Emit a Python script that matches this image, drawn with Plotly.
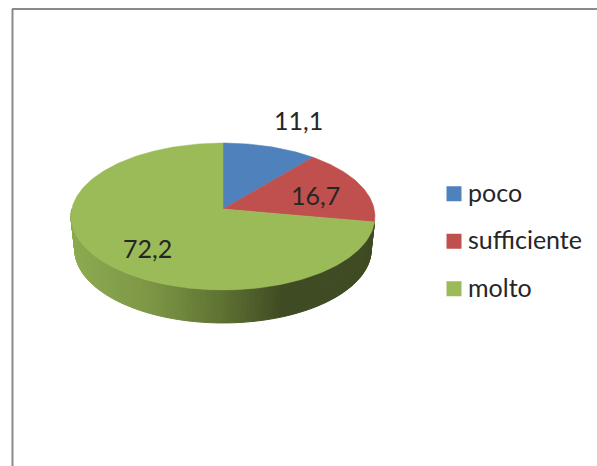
import math
import plotly.graph_objects as go

categories = ["poco", "sufficiente", "molto"]
values = [11.1, 16.7, 72.2]
value_labels = ["11,1", "16,7", "72,2"]
colors = ["#4f81bd", "#c0504d", "#9bbb59"]
label_pos = [(298, 120), (315, 195), (147, 248)]

CX, CY, R, S, K, DEPTH = 223, 209, 151.2, 72.7, 0.102, 33
FONT = "Lato"
TEXT = "#262626"


def project(deg, drop=0.0):
    """Perspective view of a point on the pie's rim (clockwise from 12 o'clock)."""
    t = math.radians(deg)
    u, v = math.sin(t), math.cos(t)
    w = 1 + K * v
    scale = 1 - 0.025 * drop / DEPTH
    return CX + R * u / w * scale, CY - S * v / w + drop


def shade(x):
    stops = [(75, (140, 170, 80)), (150, (125, 150, 70)), (220, (95, 115, 50)),
             (283, (63, 75, 35)), (375, (63, 75, 35))]
    for (x0, c0), (x1, c1) in zip(stops, stops[1:]):
        if x <= x1:
            f = max(0, (x - x0) / (x1 - x0))
            return "rgb(%d,%d,%d)" % tuple(a + (b - a) * f for a, b in zip(c0, c1))
    return "rgb(63,75,35)"


fig = go.Figure()

# sides of the visible front rim (belongs to the last slice)
start = sum(values[:2]) / sum(values) * 360
step = 1.0
deg = start
while deg < 270:
    d2 = min(deg + step, 272)
    a = project(deg); b = project(d2); c = project(d2, DEPTH); d = project(deg, DEPTH)
    col = shade((a[0] + b[0]) / 2)
    fig.add_trace(go.Scatter(
        x=[a[0], b[0], c[0], d[0], a[0]], y=[a[1], b[1], c[1], d[1], a[1]],
        mode="lines", fill="toself", fillcolor=col, line=dict(color=col, width=1),
        showlegend=False, hoverinfo="skip"))
    deg = d2

# tops of the slices
total = sum(values)
cum = 0.0
for name, val, col in zip(categories, values, colors):
    a0 = cum / total * 360
    a1 = (cum + val) / total * 360
    n = max(2, int(a1 - a0))
    pts = [project(a0 + (a1 - a0) * i / n) for i in range(n + 1)]
    xs = [CX] + [p[0] for p in pts] + [CX]
    ys = [CY] + [p[1] for p in pts] + [CY]
    fig.add_trace(go.Scatter(
        x=xs, y=ys, mode="lines", fill="toself", fillcolor=col,
        line=dict(color=col, width=0.5), name=name, showlegend=False,
        hoverinfo="name+text", text=str(val)))
    cum += val

# legend entries
for name, col in zip(categories, colors):
    fig.add_trace(go.Scatter(
        x=[None], y=[None], mode="markers", name=name, legendgroup=name,
        marker=dict(symbol="square", size=15, color=col)))

for lab, (x, y) in zip(value_labels, label_pos):
    fig.add_annotation(x=x, y=y, text=lab, showarrow=False,
                       font=dict(family=FONT, size=25, color=TEXT))

fig.add_shape(type="line", xref="paper", yref="paper", x0=12.5/597, x1=12.5/597,
              y0=0, y1=1 - 9/466, line=dict(color="#8a8a8a", width=2))
fig.add_shape(type="line", xref="paper", yref="paper", x0=12/597, x1=1,
              y0=1 - 9/466, y1=1 - 9/466, line=dict(color="#8a8a8a", width=2))

fig.update_layout(
    width=597, height=466, margin=dict(l=0, r=0, t=0, b=0),
    paper_bgcolor="white", plot_bgcolor="white",
    xaxis=dict(range=[0, 597], visible=False, fixedrange=True),
    yaxis=dict(range=[466, 0], visible=False, fixedrange=True),
    legend=dict(x=428/597, y=1 - 169/466, xanchor="left", yanchor="top",
                font=dict(family=FONT, size=25, color=TEXT),
                tracegroupgap=12, bgcolor="rgba(0,0,0,0)"),
)
post = """
document.body.style.margin = '0';
document.body.style.overflow = 'hidden';
document.querySelectorAll('.legendsymbols').forEach(function (g) {
  g.setAttribute('transform', 'translate(6,2)');
});
"""
fig.write_html("out.html", post_script=post, config={"displayModeBar": False})
